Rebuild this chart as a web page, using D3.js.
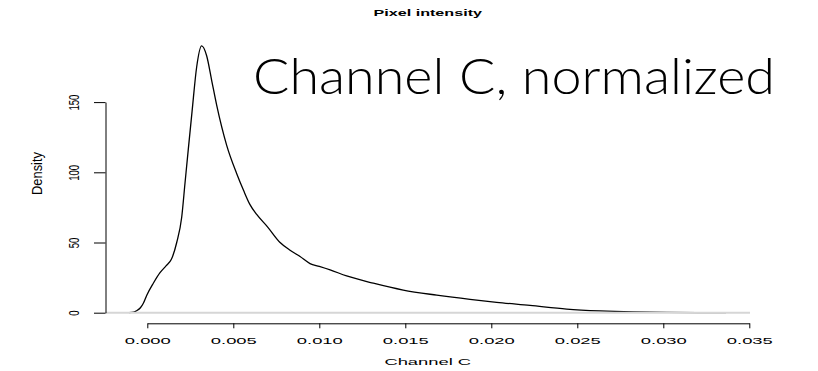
<!DOCTYPE html>
<html>
<head>
<meta charset="utf-8">
<script src="https://cdn.jsdelivr.net/npm/d3@7"></script>
<style>
  html, body { margin: 0; padding: 0; background: #fff; }
  svg { display: block; }
  text { font-family: "Liberation Sans", Arial, Helvetica, sans-serif; fill: #000; }
</style>
</head>
<body>
<svg id="chart" width="818" height="371"></svg>
<script>
// Kernel density estimate of channel C pixel intensity (normalized)
const densityX = [
  -0.00106, -0.00080, -0.00062, -0.00040, -0.00023, -0.00003, 0.00035, 0.00074,
  0.00110, 0.00140, 0.00171, 0.00200, 0.00219, 0.00238, 0.00260, 0.00287,
  0.00316, 0.00345, 0.00375, 0.00403, 0.00462, 0.00520, 0.00560, 0.00597,
  0.00636, 0.00700, 0.00772, 0.00830, 0.00888, 0.00946, 0.01000, 0.01063,
  0.01159, 0.01314, 0.01488, 0.01683, 0.01876, 0.02031, 0.02225, 0.02438,
  0.02632, 0.02824, 0.03020, 0.03200, 0.03365
];
const densityY = [
  0, 0.4, 1.4, 3.5, 6.7, 12.5, 21, 28.5,
  33.5, 38, 50, 68, 92, 116, 143, 175,
  190, 183, 165, 148, 119, 99, 87, 77,
  70, 61, 50, 44.5, 40, 35, 33, 30.5,
  26.2, 21, 16.1, 12.5, 9.5, 7.4, 5.2, 2.6,
  1.3, 0.6, 0.3, 0.1, 0
];
const xTicks = [0, 0.005, 0.010, 0.015, 0.020, 0.025, 0.030, 0.035];
const yTicks = [0, 50, 100, 150];

const titleText = "Pixel intensity";
const xLabel = "Channel C";
const yLabel = "Density";
const noteText = "Channel C, normalized";

const W = 818, H = 371;
const plot = { left: 105.5, right: 750, top: 35.3, bottom: 323.3 };
const sx = 2.1;        // horizontal stretch of the axis text
const fs = 8.75;       // base font size

const svg = d3.select("#chart");
svg.append("rect").attr("width", W).attr("height", H).attr("fill", "#fff");

const x = d3.scaleLinear().domain([0, 0.035]).range([147.3, 749.3]);
const y = d3.scaleLinear().domain([0, 150]).range([312.7, 102.1]);

const pts = densityX.map((d, i) => [d, densityY[i]]);

// density curve
svg.append("path")
  .datum(pts)
  .attr("fill", "none")
  .attr("stroke", "#000")
  .attr("stroke-width", 1.3)
  .attr("stroke-linejoin", "round")
  .attr("d", d3.line().x(d => x(d[0])).y(d => y(d[1])).curve(d3.curveMonotoneX));

// zero reference line across the plot region
svg.append("line")
  .attr("x1", plot.left).attr("x2", plot.right)
  .attr("y1", y(0)).attr("y2", y(0))
  .attr("stroke", "#d6d6d6").attr("stroke-width", 2);

// x axis
const gx = svg.append("g")
  .attr("transform", `translate(0,${plot.bottom})`)
  .call(d3.axisBottom(x).tickValues(xTicks).tickSize(5).tickSizeOuter(0)
    .tickFormat(d3.format(".3f")));
gx.selectAll(".domain, .tick line").attr("stroke", "#000").attr("stroke-width", 1);
gx.selectAll(".tick text")
  .attr("y", 0).attr("dy", null)
  .attr("transform", `translate(0,20.6) scale(${sx},1)`)
  .style("font-size", fs + "px")
  .style("font-family", '"Liberation Sans", Arial, sans-serif')
  .attr("fill", "#000");

// y axis
const gy = svg.append("g")
  .attr("transform", `translate(${plot.left},0)`)
  .call(d3.axisLeft(y).tickValues(yTicks).tickSize(11.5).tickSizeOuter(0));
gy.selectAll(".domain, .tick line").attr("stroke", "#000").attr("stroke-width", 1);
gy.selectAll(".tick text")
  .attr("x", 0).attr("dy", null)
  .attr("text-anchor", "middle")
  .attr("transform", `translate(-27,0) scale(1.6,1) rotate(-90)`)
  .style("font-size", (fs * 1.1) + "px")
  .style("font-family", '"Liberation Sans", Arial, sans-serif')
  .attr("fill", "#000");

// title
svg.append("text")
  .attr("transform", `translate(${(plot.left + plot.right) / 2},16) scale(1.7,1)`)
  .attr("text-anchor", "middle")
  .style("font-size", "9.5px")
  .style("font-weight", "bold")
  .text(titleText);

// x label
svg.append("text")
  .attr("transform", `translate(${(plot.left + plot.right) / 2},365) scale(${sx},1)`)
  .attr("text-anchor", "middle")
  .style("font-size", fs + "px")
  .text(xLabel);

// y label
svg.append("text")
  .attr("transform", `translate(42,173.5) scale(1.6,1) rotate(-90)`)
  .attr("text-anchor", "middle")
  .attr("textLength", 43)
  .attr("lengthAdjust", "spacingAndGlyphs")
  .style("font-size", (fs * 1.1) + "px")
  .text(yLabel);

// large annotation
svg.append("text")
  .attr("x", 253).attr("y", 94)
  .attr("textLength", 522)
  .attr("lengthAdjust", "spacingAndGlyphs")
  .style("font-family", 'Lato, "Open Sans", sans-serif')
  .style("font-size", "50px")
  .style("font-weight", 300)
  .text(noteText);
</script>
</body>
</html>
